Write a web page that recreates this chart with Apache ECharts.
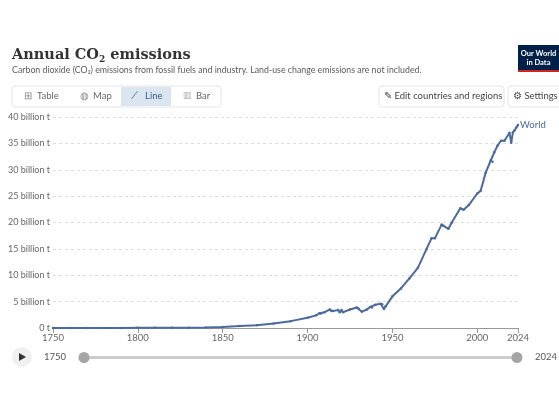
<!DOCTYPE html>
<html><head><meta charset="utf-8">
<script src="https://cdn.jsdelivr.net/npm/echarts@6/dist/echarts.min.js"></script>
<style>html,body{margin:0;padding:0;background:#fff}#c{width:559px;height:419px}</style>
</head><body><div id="c"></div>
<script>
const years = [1750,1760,1770,1780,1790,1800,1810,1820,1830,1840,1850,1860,1870,1880,1890,1900,1905,1907,1908,1910,1913,1914,1915,1918,1919,1920,1921,1925,1929,1930,1932,1935,1937,1938,1940,1943,1944,1945,1946,1950,1955,1960,1965,1970,1973,1975,1979,1980,1983,1985,1990,1992,1995,2000,2002,2005,2008,2009,2010,2012,2014,2016,2019,2020,2021,2022,2023,2024];
const world = [0.009,0.010,0.012,0.015,0.020,0.028,0.035,0.045,0.07,0.11,0.197,0.36,0.53,0.85,1.3,1.95,2.4,2.8,2.75,3.0,3.5,3.2,3.2,3.4,3.0,3.4,3.0,3.5,3.9,3.7,3.1,3.5,4.0,3.9,4.4,4.6,4.5,3.6,4.1,6.0,7.5,9.4,11.4,14.9,17.0,17.0,19.6,19.4,18.8,20.0,22.7,22.4,23.3,25.5,26.0,29.5,31.8,31.5,33.3,34.6,35.5,35.5,37.0,35.1,37.1,37.5,38.0,38.5];
const yTicks = [0,5,10,15,20,25,30,35,40];
const xLabels = [1750,1800,1850,1900,1950,2000,2024];
const chart = echarts.init(document.getElementById('c'));
const F = 'Lato, "Noto Sans", sans-serif';
const btn = (x,y,w,h,fill)=>({type:'rect',shape:{x,y,width:w,height:h,r:3},style:{fill:fill||'#fff',stroke:'#e3e5e8',lineWidth:1}});
const txt = (x,y,t,sz,col,extra)=>Object.assign({type:'text',x,y,style:{text:t,fontFamily:F,fontSize:sz,fill:col}},extra||{});
chart.setOption({
  animation:false,
  grid:{left:53,right:41,top:117,bottom:91},
  xAxis:{type:'value',min:1750,max:2024,
    axisLine:{show:true,lineStyle:{color:'#999'}},
    axisTick:{show:true,customValues:xLabels,length:5,lineStyle:{color:'#999'}},
    axisLabel:{customValues:xLabels,formatter:v=>String(v),color:'#666',fontFamily:F,fontSize:9.5,margin:5},
    splitLine:{show:false}},
  yAxis:{type:'value',min:0,max:40,interval:5,
    axisLabel:{formatter:v=>v===0?'0 t':v+' billion t',color:'#666',fontFamily:F,fontSize:9,margin:3},
    axisLine:{show:false},axisTick:{show:false},
    splitLine:{lineStyle:{color:'#ddd',type:[3,3]}}},
  series:[{type:'line',data:years.map((y,i)=>[y,world[i]]),symbol:'circle',symbolSize:2.5,showSymbol:true,
    lineStyle:{color:'#4c6a9c',width:2},itemStyle:{color:'#4c6a9c'},
    endLabel:{show:true,formatter:'World',color:'#4c6a9c',fontFamily:F,fontSize:9.5,distance:2}}],
  graphic:[
    {type:'text',x:12,y:47,style:{rich:{a:{fontFamily:'"DejaVu Serif", serif',fontSize:14.5,fill:'#333',fontWeight:'bold'},s:{fontFamily:'"DejaVu Serif", serif',fontSize:9,fill:'#333',fontWeight:'bold',padding:[8,0,0,0]}},text:'{a|Annual CO}{s|2}{a| emissions}'}},
    txt(12,66,'Carbon dioxide (CO₂) emissions from fossil fuels and industry. Land-use change emissions are not included.',8.8,'#5b5b5b'),
    {type:'rect',shape:{x:518,y:45,width:41,height:27},style:{fill:'#002147'}},
    {type:'rect',shape:{x:518,y:70,width:41,height:2},style:{fill:'#ce261e'}},
    txt(538.5,49,'',7.5,'#fff',{style:{text:'Our World\nin Data',fontFamily:F,fontSize:7.5,fill:'#fff',align:'center',lineHeight:9,fontWeight:'bold'}}),
    btn(12,86,209,21),
    {type:'rect',shape:{x:121,y:87,width:50,height:19},style:{fill:'#dbe5f0'}},
    txt(37,91,'Table',9.5,'#666'),txt(93,91,'Map',9.5,'#666'),txt(145,91,'Line',9.5,'#3a5a8c'),txt(196,91,'Bar',9.5,'#666'),
    txt(24,91,'⊞',10,'#888'),txt(80,91,'◍',10,'#888'),txt(131,91,'⟋',10,'#3a5a8c'),txt(183,91,'▥',9,'#aaa'),
    btn(379,86,125,21),txt(384,91,'✎ Edit countries and regions',9.5,'#444'),
    btn(508,86,60,21),txt(513,91,'⚙ Settings',9.5,'#444'),
    {type:'circle',shape:{cx:22,cy:357,r:10},style:{fill:'#f0f0f0'}},
    {type:'polygon',shape:{points:[[19,353],[19,361],[26,357]]},style:{fill:'#333'}},
    txt(44,352,'1750',9.5,'#555'),txt(535,352,'2024',9.5,'#555'),
    {type:'rect',shape:{x:84,y:356,width:433,height:3,r:1.5},style:{fill:'#ccc'}},
    {type:'circle',shape:{cx:84,cy:357.5,r:5.5},style:{fill:'#a5a5a5'}},
    {type:'circle',shape:{cx:517,cy:357.5,r:5.5},style:{fill:'#a5a5a5'}}
  ]
});
</script></body></html>
